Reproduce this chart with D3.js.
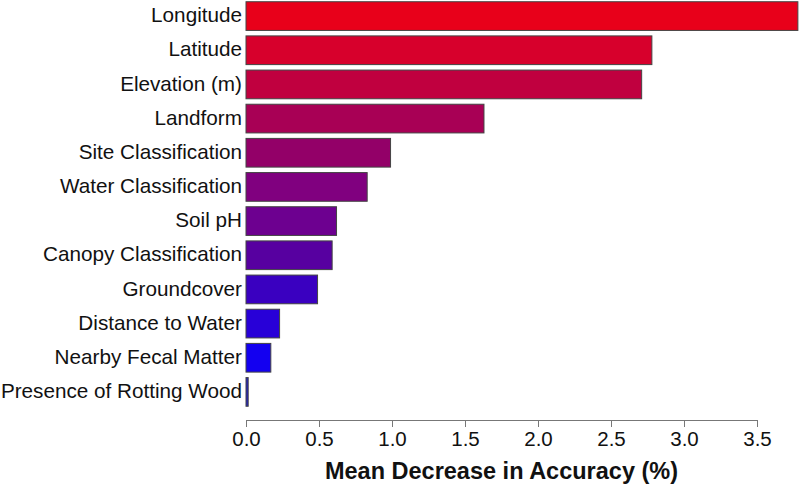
<!DOCTYPE html>
<html>
<head>
<meta charset="utf-8">
<script src="https://cdn.jsdelivr.net/npm/d3@7"></script>
<style>
  body { margin: 0; background: #fff; }
  svg { display: block; font-family: "Liberation Sans", Arial, sans-serif; }
</style>
</head>
<body>
<svg id="chart" width="800" height="492"></svg>
<script>
// variable importance
var variables = ["Longitude", "Latitude", "Elevation (m)", "Landform", "Site Classification",
  "Water Classification", "Soil pH", "Canopy Classification", "Groundcover",
  "Distance to Water", "Nearby Fecal Matter", "Presence of Rotting Wood"];
var importance = [3.78, 2.78, 2.71, 1.63, 0.99, 0.83, 0.62, 0.59, 0.49, 0.23, 0.17, 0.015];
var barColors = ["#e8001a", "#d7002c", "#c0003f", "#a80055", "#930068", "#80007f",
  "#6d0090", "#5700a0", "#3a00c0", "#2800d8", "#1300f0", "#2020c0"];
var xTicks = [0, 0.5, 1, 1.5, 2, 2.5, 3, 3.5];

var svg = d3.select("#chart");

var x = d3.scaleLinear().domain([0, 3.5]).range([246, 757]);
var y = d3.scaleBand().domain(variables).range([-1, 409])
    .paddingInner(0.16).paddingOuter(0.08);

// bars
svg.append("g")
  .selectAll("rect")
  .data(variables)
  .enter().append("rect")
    .attr("x", x(0))
    .attr("y", function(d) { return y(d); })
    .attr("width", function(d, i) { return x(importance[i]) - x(0); })
    .attr("height", y.bandwidth())
    .style("fill", function(d, i) { return barColors[i]; })
    .style("stroke", "#444")
    .style("stroke-width", "1px");

// category labels
svg.append("g")
  .selectAll("text")
  .data(variables)
  .enter().append("text")
    .attr("x", 242)
    .attr("y", function(d) { return y(d) + y.bandwidth() / 2; })
    .attr("dy", "0.3em")
    .attr("text-anchor", "end")
    .style("font-size", "20.7px")
    .style("fill", "#111")
    .text(function(d) { return d; });

// x axis, R style
var axis = svg.append("g")
    .attr("transform", "translate(0,420)")
    .call(d3.axisBottom(x).tickValues(xTicks).tickFormat(d3.format(".1f"))
      .tickSize(7).tickPadding(4));
axis.select(".domain").attr("stroke", "#777");
axis.selectAll(".tick line").attr("stroke", "#777");
axis.selectAll(".tick text")
    .style("font-size", "20.5px")
    .style("fill", "#111")
    .style("font-family", "'Liberation Sans', Arial, sans-serif");

svg.append("text")
    .attr("x", (x(0) + x(3.5)) / 2)
    .attr("y", 479)
    .attr("text-anchor", "middle")
    .style("font-size", "23.5px")
    .style("font-weight", "bold")
    .style("fill", "#111")
    .text("Mean Decrease in Accuracy (%)");
</script>
</body>
</html>
